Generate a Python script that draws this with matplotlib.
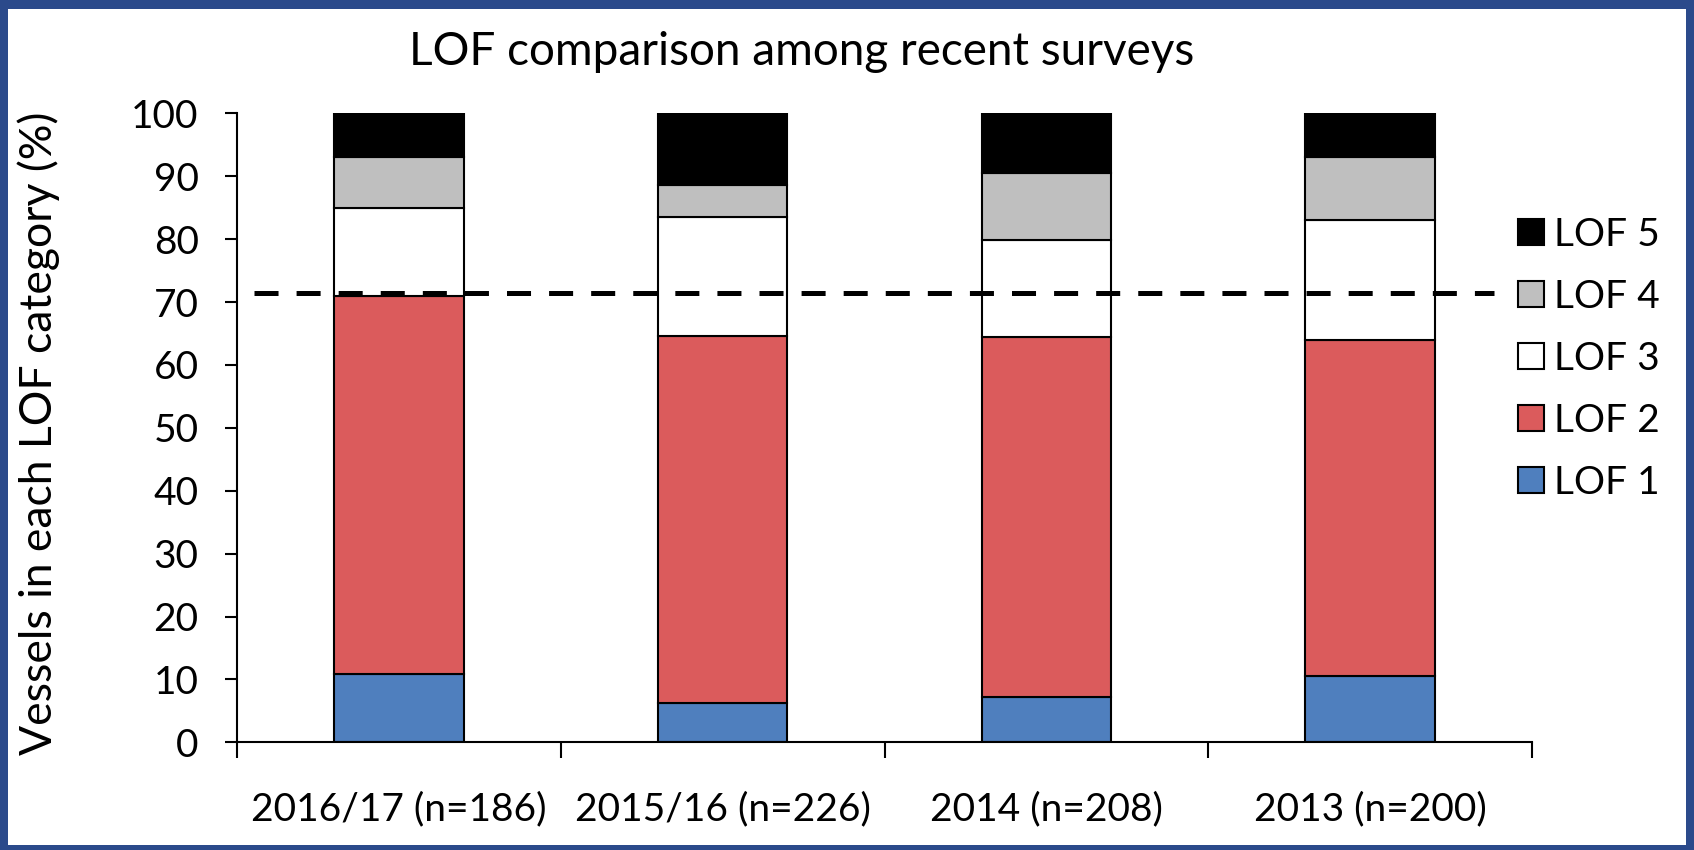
import matplotlib
matplotlib.use("Agg")
import matplotlib.pyplot as plt
from matplotlib.patches import Patch, Rectangle

plt.rcParams['font.family'] = ['Lato', 'DejaVu Sans']
plt.rcParams['lines.scale_dashes'] = False

# Survey categories and LOF shares (% of vessels)
surveys = ["2016/17 (n=186)", "2015/16 (n=226)", "2014 (n=208)", "2013 (n=200)"]
lof_labels = ["LOF 1", "LOF 2", "LOF 3", "LOF 4", "LOF 5"]
lof1 = [10.8, 6.2, 7.2, 10.5]
lof2 = [60.2, 58.4, 57.2, 53.5]
lof3 = [14.0, 19.0, 15.4, 19.0]
lof4 = [8.0, 5.0, 10.8, 10.0]
lof5 = [7.0, 11.4, 9.4, 7.0]
threshold = 71.5
y_ticks = list(range(0, 101, 10))

series = [lof1, lof2, lof3, lof4, lof5]
colors = ["#4f7fbe", "#db5b5c", "#ffffff", "#bfbfbf", "#000000"]

W, H = 1694, 850
fig = plt.figure(figsize=(W / 100, H / 100), dpi=100)
fig.patch.set_facecolor("#2b4a8b")
fig.patches.append(Rectangle((8 / W, 5 / H), (1686 - 8) / W, (841 - 5) / H,
                             transform=fig.transFigure, facecolor="white",
                             edgecolor="none", zorder=-5))

left, right, bottom_px, top_px = 237, 1532, 742.3, 113.4
ax = fig.add_axes([left / W, 1 - bottom_px / H, (right - left) / W,
                   (bottom_px - top_px) / H])
ax.set_facecolor("white")

x = list(range(len(surveys)))
base = [0.0] * len(surveys)
for vals, col in zip(series, colors):
    ax.bar(x, vals, width=0.4, bottom=base, color=col, edgecolor="black",
           linewidth=1.5, zorder=2)
    base = [b + v for b, v in zip(base, vals)]

ax.plot([-0.447, 3.383], [threshold, threshold], color="black", lw=3.6,
        dashes=(17.3, 13), dash_capstyle="butt", clip_on=False, zorder=3)

ax.set_xlim(-0.5, 3.5)
ax.set_ylim(0, 100)
for s in ("top", "right"):
    ax.spines[s].set_visible(False)
for s in ("left", "bottom"):
    ax.spines[s].set_linewidth(1.5)
    ax.spines[s].set_zorder(4)

ax.set_yticks(y_ticks)
ax.tick_params(axis="y", length=8.6, width=1.5, pad=19, labelsize=28)
ax.set_xticks(x)
ax.set_xticklabels(surveys)
ax.set_xticks([-0.5, 0.5, 1.5, 2.5, 3.5], minor=True)
ax.tick_params(axis="x", which="major", length=0, pad=35, labelsize=28)
ax.tick_params(axis="x", which="minor", length=11.5, width=1.5)

fig.text(802 / W, 1 - 52 / H, "LOF comparison among recent surveys",
         fontsize=33, ha="center", va="center")
fig.text(39 / W, 1 - 433 / H, "Vessels in each LOF category (%)",
         fontsize=32, rotation=90, ha="center", va="center")

handles = [Patch(facecolor=c, edgecolor="black", linewidth=1.5)
           for c in colors][::-1]
fig.legend(handles, lof_labels[::-1], loc="upper left",
           bbox_to_anchor=(1518 / W, 1 - 216.5 / H), frameon=False,
           fontsize=28, handlelength=0.67, handleheight=0.67,
           handletextpad=0.25, labelspacing=0.67, borderpad=0,
           borderaxespad=0)

fig.savefig("out.png", dpi=100)
